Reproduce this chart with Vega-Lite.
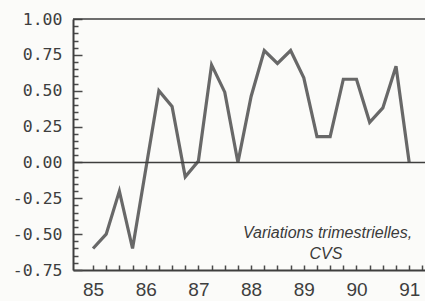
{
  "$schema": "https://vega.github.io/schema/vega-lite/v6.json",
  "width": 352,
  "height": 251,
  "autosize": "none",
  "padding": {"left": 73, "top": 19, "right": 0, "bottom": 31},
  "background": "#fbfbf9",
  "config": {"view": {"stroke": null}},
  "datasets": {
    "series": [
      {"t": 85.0, "v": -0.60}, {"t": 85.25, "v": -0.50}, {"t": 85.5, "v": -0.20}, {"t": 85.75, "v": -0.60},
      {"t": 86.0, "v": -0.05}, {"t": 86.25, "v": 0.50}, {"t": 86.5, "v": 0.39}, {"t": 86.75, "v": -0.10},
      {"t": 87.0, "v": 0.01}, {"t": 87.25, "v": 0.68}, {"t": 87.5, "v": 0.49}, {"t": 87.75, "v": 0.0},
      {"t": 88.0, "v": 0.46}, {"t": 88.25, "v": 0.78}, {"t": 88.5, "v": 0.69}, {"t": 88.75, "v": 0.78},
      {"t": 89.0, "v": 0.59}, {"t": 89.25, "v": 0.18}, {"t": 89.5, "v": 0.18}, {"t": 89.75, "v": 0.58},
      {"t": 90.0, "v": 0.58}, {"t": 90.25, "v": 0.28}, {"t": 90.5, "v": 0.38}, {"t": 90.75, "v": 0.67},
      {"t": 91.0, "v": 0.0}
    ],
    "rules": [{"v": 0.0}, {"v": 1.0}],
    "notes": [
      {"t": 89.45, "v": -0.525, "label": "Variations trimestrielles,"},
      {"t": 89.42, "v": -0.67, "label": "CVS"}
    ]
  },
  "layer": [
    {
      "data": {"name": "series"},
      "mark": {"type": "line", "color": "#686868", "strokeWidth": 3.2, "strokeJoin": "miter"},
      "encoding": {
        "x": {"field": "t", "type": "quantitative", "scale": {"domain": [84.62, 91.3], "nice": false, "zero": false},
          "axis": {"orient": "bottom", "title": null, "tickCount": 200,
            "values": [85, 85.25, 85.5, 85.75, 86, 86.25, 86.5, 86.75, 87, 87.25, 87.5, 87.75, 88, 88.25, 88.5, 88.75, 89, 89.25, 89.5, 89.75, 90, 90.25, 90.5, 90.75, 91, 91.25],
            "labelExpr": "datum.value % 1 == 0 ? format(datum.value, 'd') : ''",
            "ticks": true, "tickSize": -5, "tickWidth": 1.5, "tickColor": "#4a4a4a",
            "domain": true, "domainColor": "#3e3e3e", "domainWidth": 2, "grid": false,
            "labelFont": "Liberation Sans", "labelFontSize": 19, "labelColor": "#3e3e3e", "labelPadding": 15, "labelOverlap": false}},
        "y": {"field": "v", "type": "quantitative", "scale": {"domain": [-0.75, 1.0], "nice": false, "zero": false},
          "axis": {"orient": "left", "title": null, "tickCount": 200,
            "values": [-0.75, -0.7, -0.65, -0.6, -0.55, -0.5, -0.45, -0.4, -0.35, -0.3, -0.25, -0.2, -0.15, -0.1, -0.05, 0, 0.05, 0.1, 0.15, 0.2, 0.25, 0.3, 0.35, 0.4, 0.45, 0.5, 0.55, 0.6, 0.65, 0.7, 0.75, 0.8, 0.85, 0.9, 0.95, 1.0],
            "labelExpr": "abs(round(datum.value * 100)) % 25 == 0 ? replace(format(datum.value, '.2f'), '\u2212', '-') : ''",
            "ticks": true,
            "tickSize": {"condition": {"test": "abs(round(datum.value * 100)) % 25 == 0", "value": -9}, "value": -5},
            "tickWidth": 1.5, "tickColor": "#4a4a4a",
            "domain": true, "domainColor": "#3e3e3e", "domainWidth": 2, "grid": false,
            "labelFont": "DejaVu Sans Mono", "labelFontSize": 16.5, "labelColor": "#3e3e3e", "labelPadding": 20, "labelOverlap": false}}
      }
    },
    {
      "data": {"name": "rules"},
      "mark": {"type": "rule", "color": "#3e3e3e", "strokeWidth": 1.6},
      "encoding": {
        "y": {"field": "v", "type": "quantitative"}
      }
    },
    {
      "data": {"name": "notes"},
      "mark": {"type": "text", "font": "Liberation Sans", "fontStyle": "italic", "fontSize": 16, "color": "#3a3a3a", "align": "center", "baseline": "alphabetic"},
      "encoding": {
        "x": {"field": "t", "type": "quantitative"},
        "y": {"field": "v", "type": "quantitative"},
        "text": {"field": "label", "type": "nominal"}
      }
    }
  ]
}
